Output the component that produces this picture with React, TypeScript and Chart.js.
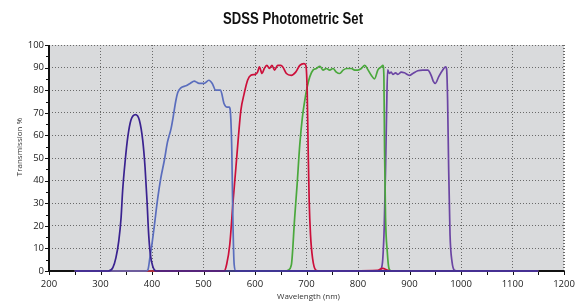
import React, { useEffect, useRef } from 'react';
import { Chart, registerables } from 'chart.js';

Chart.register(...registerables);

const chartTitle = 'SDSS Photometric Set';
const xAxisTitle = 'Wavelength (nm)';
const yAxisTitle = 'Transmission %';

const xMin = 200;
const xMax = 1200;
const xStep = 100;
const yMin = 0;
const yMax = 100;
const yStep = 10;

// u filter
const uWave = [250, 315, 324, 330, 335.5, 340, 343, 348, 353, 359, 368, 375.5, 382, 386.5, 390.3, 393.5, 396.8, 401.3, 408, 1150];
const uTrans = [0, 0, 1.5, 5.9, 13.3, 23.7, 35.6, 48.9, 59.3, 66.7, 69.2, 66.7, 57.8, 45.9, 31.1, 16.3, 7.4, 2.2, 0, 0];

// g filter
const gWave = [250, 388, 392, 396, 400, 404.5, 411, 417, 424, 430, 437, 441, 446, 450, 456, 466, 474, 482, 487, 491, 501, 510.5, 517, 523.5, 533, 540, 546, 550, 552, 555, 557, 559.5, 563, 1150];
const gTrans = [0, 0, 0.5, 6, 12, 20, 32, 41, 49, 57, 63, 68, 75, 79, 81, 82, 83, 84, 83.5, 83, 83, 84.4, 83, 80, 80, 74, 72.5, 72.5, 71, 53, 23.5, 3, 0, 0];

// r filter
const rWave = [250, 540, 545, 551, 557.5, 563, 568, 572.5, 579, 585.6, 592, 600, 605, 608.5, 613.7, 618, 623, 628, 633, 638, 644, 650, 654, 661, 670.6, 679, 687, 695, 698.7, 701.3, 703.3, 705.2, 707.8, 711.8, 718, 725, 838, 848, 858, 865, 1150];
const rTrans = [0, 0, 3, 11.6, 31, 46, 60, 71, 78.5, 84.4, 86.6, 87, 88, 90.3, 87.4, 89.6, 91, 89.6, 91, 88.9, 91, 91, 90.3, 87.4, 86.6, 88, 91, 91.8, 91, 80, 53, 31, 16, 5.6, 0.4, 0, 0.3, 1.2, 0.3, 0, 0];

// i filter
const iWave = [250, 660, 664, 670.6, 677, 681.7, 687, 692, 696.7, 701.3, 706.5, 713, 719.4, 726, 732, 738.7, 745, 751.6, 758, 764.5, 771, 778.7, 787, 793.5, 800, 806.5, 813, 819.4, 825.8, 832, 838.7, 845, 848.4, 850.3, 851.6, 853.5, 856.8, 860, 864.5, 1150];
const iTrans = [0, 0, 0.3, 2.7, 23.5, 38, 56, 68, 75.5, 81.4, 86, 89, 89.6, 90.6, 88.9, 89.6, 88.9, 89.6, 88, 87.4, 88.9, 89.6, 89.6, 88.9, 88.9, 89.6, 91, 89, 86.6, 85, 89, 90.3, 91, 86, 53, 23.5, 8.6, 1.2, 0, 0];

// z filter
const zWave = [250, 840, 845, 848, 851, 853.5, 855.5, 857.5, 861, 864.5, 867.7, 873, 877.4, 884, 890, 900, 906.5, 916, 926, 935.5, 942, 946, 950, 956.8, 964.5, 969.7, 972, 974, 976, 978.7, 982.6, 987, 994, 1150];
const zTrans = [0, 0, 1, 5, 20, 45, 70, 89, 87.4, 88, 87, 87.7, 87, 88, 87.7, 86.6, 87.4, 88.6, 88.9, 88.9, 86.6, 84, 83, 86, 88.9, 90.3, 89.5, 75.5, 45.8, 16, 4, 0.4, 0, 0];

const seriesNames = ['u', 'g', 'r', 'i', 'z'];
const seriesColors = ['#3a2290', '#5a6dbd', '#cc0f3a', '#4aa83c', '#6b45a3'];

const pairs = (w: number[], t: number[]) => w.map((x, i) => ({ x, y: t[i] }));

const FONT = '"Open Sans", "Noto Sans", sans-serif';

const decorPlugin = {
  id: 'decor',
  beforeDraw(chart: any) {
    const { ctx, chartArea: a } = chart;
    ctx.save();
    ctx.fillStyle = '#ffffff';
    ctx.fillRect(0, 0, chart.width, chart.height);
    ctx.fillStyle = '#d9dadc';
    ctx.fillRect(a.left, a.top, a.right - a.left, a.bottom - a.top);
    ctx.restore();
  },
  beforeDatasetsDraw(chart: any) {
    const { ctx, chartArea: a, scales } = chart;
    const xs = scales.x;
    const ys = scales.y;
    ctx.save();
    ctx.strokeStyle = '#6a6a6a';
    ctx.lineWidth = 1;
    ctx.setLineDash([1, 2]);
    ctx.beginPath();
    ctx.moveTo(a.left, a.top + 0.5);
    ctx.lineTo(a.right, a.top + 0.5);
    ctx.moveTo(a.right - 0.5, a.top);
    ctx.lineTo(a.right - 0.5, a.bottom);
    ctx.stroke();
    ctx.setLineDash([]);
    ctx.strokeStyle = '#111';
    ctx.lineWidth = 1;
    ctx.beginPath();
    for (let v = yMin; v <= yMax; v += yStep / 2) {
      const py = Math.round(ys.getPixelForValue(v)) + 0.5;
      const len = v % yStep === 0 ? 4 : 3;
      ctx.moveTo(a.left - len, py);
      ctx.lineTo(a.left, py);
    }
    for (let v = xMin; v <= xMax; v += xStep / 2) {
      const px = Math.round(xs.getPixelForValue(v)) + 0.5;
      ctx.moveTo(px, a.bottom);
      ctx.lineTo(px, a.bottom + 4);
    }
    ctx.stroke();
    ctx.strokeStyle = '#111';
    ctx.lineWidth = 2;
    ctx.beginPath();
    ctx.moveTo(a.left, a.top);
    ctx.lineTo(a.left, a.bottom + 1);
    ctx.moveTo(a.left - 1, a.bottom);
    ctx.lineTo(a.right, a.bottom);
    ctx.stroke();
    ctx.restore();
  },
  afterDraw(chart: any) {
    const { ctx, chartArea: a } = chart;
    ctx.save();
    ctx.fillStyle = '#111';
    ctx.textAlign = 'center';
    ctx.textBaseline = 'middle';
    ctx.font = 'bold 17px "Liberation Sans", Arial, sans-serif';
    const w = ctx.measureText(chartTitle).width;
    const sx = 140 / w;
    ctx.save();
    ctx.translate(293, 19);
    ctx.scale(sx, 1);
    ctx.fillText(chartTitle, 0, 0);
    ctx.restore();
    ctx.fillStyle = '#333';
    ctx.font = '8px ' + FONT;
    ctx.fillText(xAxisTitle, (a.left + a.right) / 2 + 2, 297);
    ctx.translate(20, 147);
    ctx.rotate(-Math.PI / 2);
    ctx.fillText(yAxisTitle, 0, 0);
    ctx.restore();
  },
};

export default function App() {
  const ref = useRef<HTMLCanvasElement | null>(null);

  useEffect(() => {
    document.body.style.margin = '0';
    const canvas = ref.current;
    if (!canvas) return;
    const waves = [uWave, gWave, rWave, iWave, zWave];
    const trans = [uTrans, gTrans, rTrans, iTrans, zTrans];
    const chart = new Chart(canvas, {
      type: 'line',
      data: {
        datasets: seriesNames.map((name, i) => ({
          label: name,
          data: pairs(waves[i], trans[i]),
          borderColor: seriesColors[i],
          backgroundColor: seriesColors[i],
          borderWidth: 1.7,
          pointRadius: 0,
          fill: false,
          cubicInterpolationMode: 'monotone' as const,
          clip: false as any,
        })),
      },
      options: {
        responsive: false,
        animation: false,
        devicePixelRatio: 1,
        layout: { padding: { left: 0, right: 21, top: 45, bottom: 0 } },
        plugins: { legend: { display: false }, title: { display: false }, tooltip: { enabled: false } },
        scales: {
          x: {
            type: 'linear',
            min: xMin,
            max: xMax,
            afterFit: (s: any) => { s.height = 34; },
            ticks: {
              stepSize: xStep,
              autoSkip: false,
              maxRotation: 0,
              padding: 7.5,
              color: '#222',
              font: { family: FONT, size: 9.5 },
              callback: (v: any) => String(v),
            },
            grid: { color: '#6a6a6a', lineWidth: 1, drawTicks: false },
            border: { display: false, dash: [1, 2] },
          },
          y: {
            type: 'linear',
            min: yMin,
            max: yMax,
            afterFit: (s: any) => { s.width = 49; },
            ticks: {
              stepSize: yStep,
              autoSkip: false,
              padding: 5,
              color: '#222',
              font: { family: FONT, size: 9.5 },
              callback: (v: any) => String(v),
            },
            grid: { color: '#6a6a6a', lineWidth: 1, drawTicks: false },
            border: { display: false, dash: [1, 2] },
          },
        },
      },
      plugins: [decorPlugin],
    } as any);
    return () => chart.destroy();
  }, []);

  return (
    <div style={{ width: 585, height: 305 }}>
      <canvas ref={ref} width={585} height={305} style={{ display: 'block' }} />
    </div>
  );
}
